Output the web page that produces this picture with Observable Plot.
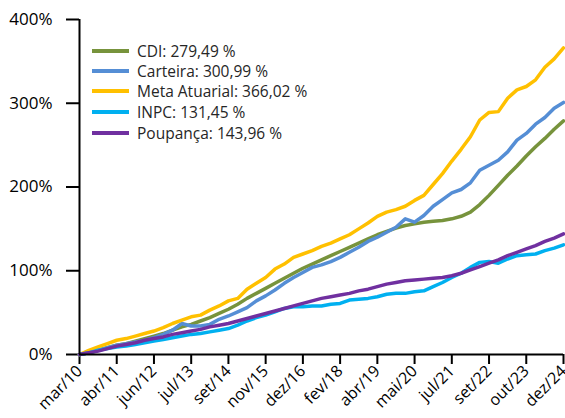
<!DOCTYPE html>
<html><head><meta charset="utf-8">
<script src="https://cdn.jsdelivr.net/npm/d3@7"></script>
<script src="https://cdn.jsdelivr.net/npm/@observablehq/plot@0.6"></script>
<style>
body{margin:0;background:#fff;}
#wrap{position:relative;width:565px;height:418px;overflow:hidden;}
.row{position:absolute;left:92px;height:20px;display:flex;align-items:center;font:15.5px "Open Sans",sans-serif;color:#262626;white-space:nowrap;}
.sw{width:37px;height:4px;margin-right:8px;}
</style></head><body><div id="wrap"></div>
<script>
const tickLabels = ["mar/10","abr/11","jun/12","jul/13","set/14","nov/15","dez/16","fev/18","abr/19","mai/20","jul/21","set/22","out/23","dez/24"];
// sample positions in tick-interval units (0 = mar/10, 13 = dez/24)
const positions = d3.range(0, 13.001, 0.25);

const cdi = [0,2,5,8,11,13,16,19,22,25,29,33,36,40,44,49,54,60,67,73,79,85,91,97,103,108,113,118,123,128,133,138,143,147,151,154,156,158,159,160,162,165,170,179,190,202,214,225,237,248,258,269,279];
const carteira = [0,2,5,8,11,13,15,17,20,24,29,37,34,34,36,42,46,51,56,64,70,77,85,92,98,104,107,111,116,122,128,135,140,146,152,162,158,166,177,185,193,197,205,220,226,232,242,256,264,275,283,294,301];
const meta = [0,5,9,13,17,19,22,25,28,32,37,41,45,47,53,58,64,67,78,85,92,102,108,116,120,124,129,133,138,143,150,157,165,170,173,177,184,190,203,216,231,245,260,280,289,290,306,316,320,328,343,353,366];
const inpc = [0,2,5,7,9,10,12,14,16,18,20,22,24,25,27,29,31,35,40,44,47,51,55,57,57,58,58,60,61,65,66,67,69,72,73,73,75,76,81,86,92,97,104,110,111,109,114,118,119,120,124,127,131];
const poupanca = [0,2,4,7,10,12,14,17,19,21,24,26,28,30,33,35,37,40,43,46,49,52,55,58,61,64,67,69,71,73,76,78,81,84,86,88,89,90,91,92,94,97,101,105,109,113,118,122,126,130,135,139,144];

const seriesNames = ["CDI","Carteira","Meta Atuarial","INPC","Poupança"];
const finalLabels = ["279,49 %","300,99 %","366,02 %","131,45 %","143,96 %"];
const colors = ["#77933C","#558ED5","#FFC000","#00B0F0","#7030A0"];
const seriesValues = [cdi, carteira, meta, inpc, poupanca];

const data = seriesValues.flatMap((vals, s) => vals.map((v, i) => ({x: positions[i], y: v, s})));

const lines = seriesValues.map((vals, s) =>
  Plot.line(data.filter(d => d.s === s), {x: "x", y: "y", stroke: colors[s], strokeWidth: 3.5, strokeLinejoin: "round"}));

const chart = Plot.plot({
  width: 565, height: 418,
  marginLeft: 79, marginRight: 2, marginTop: 19, marginBottom: 64,
  x: {domain: [0, 13]},
  y: {domain: [0, 400]},
  style: {fontFamily: "Open Sans, sans-serif", color: "#000", background: "#fff", overflow: "visible"},
  marks: [
    Plot.axisY({ticks: [0,100,200,300,400], tickFormat: d => d + "%", tickSize: 13, tickPadding: 14, strokeWidth: 2, fontSize: 17, label: null}),
    Plot.axisX({ticks: d3.range(tickLabels.length), tickFormat: i => tickLabels[i], tickSize: 10, tickRotate: -45, tickPadding: 4, strokeWidth: 2, fontSize: 16, label: null}),
    ...lines,
    Plot.ruleX([0], {strokeWidth: 2}),
    Plot.ruleY([0], {strokeWidth: 2})
  ]
});
const wrap = document.getElementById("wrap");
wrap.appendChild(chart);

const rowCenters = [50.5, 70.5, 91, 111.5, 132.5];
seriesNames.forEach((n, i) => {
  const row = document.createElement("div");
  row.className = "row";
  row.style.top = (rowCenters[i] - 10) + "px";
  row.innerHTML = `<div class="sw" style="background:${colors[i]}"></div><span>${n}: ${finalLabels[i]}</span>`;
  wrap.appendChild(row);
});
</script></body></html>
